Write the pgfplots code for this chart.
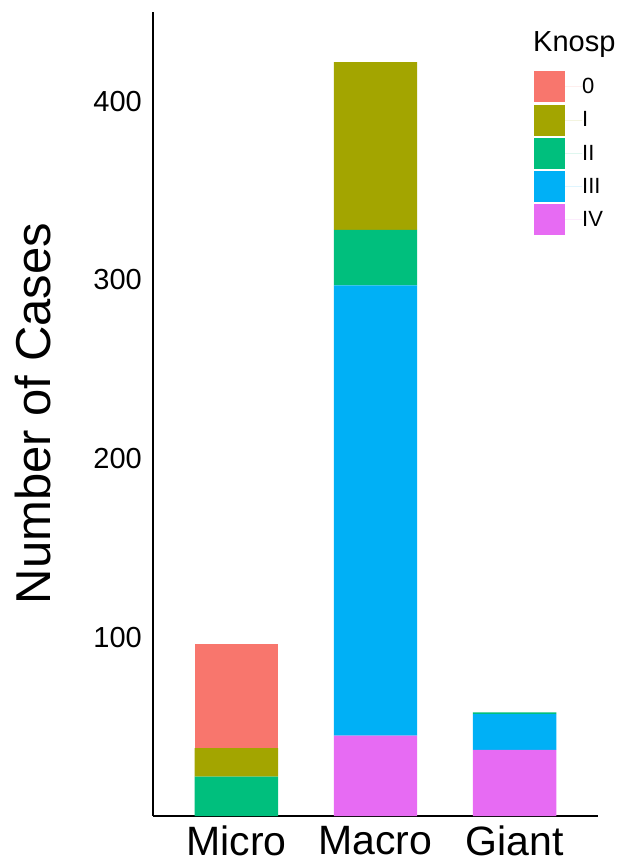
\documentclass[border=0pt]{standalone}
\usepackage{fontspec}
\setmainfont{Liberation Sans}
\usepackage{pgfplots}
\usepackage{pgfplotstable}
\pgfplotsset{compat=1.18}

\definecolor{kzero}{HTML}{F8766D}
\definecolor{kone}{HTML}{A3A500}
\definecolor{ktwo}{HTML}{00BF7D}
\definecolor{kthree}{HTML}{00B0F6}
\definecolor{kfour}{HTML}{E76BF3}

% size class: 1 Micro, 2 Macro, 3 Giant
\pgfplotstableread{
cat knIV knIII knII knI kn0
1   0    0     22   16  58
2   45   252   31   94  0
3   37   20    1    0   0
}\knosp

\begin{document}
\begin{tikzpicture}
\begin{axis}[
    at={(153pt,45pt)}, anchor=south west,
    scale only axis, width=445pt, height=804pt,
    ybar stacked, bar width=0.6,
    xmin=0.4, xmax=3.6, ymin=0, ymax=450,
    axis x line*=bottom, axis y line*=left,
    axis line style={line width=1.2pt, -},
    xtick={1,2,3}, xticklabels={Micro,Macro,Giant},
    ytick={100,200,300,400},
    major tick length=0pt,
    /pgf/number format/assume math mode=true,
    yticklabel style={font=\fontsize{29}{29}\selectfont, inner sep=0pt, xshift=-11pt},
    xticklabel style={font=\fontsize{41}{41}\selectfont, inner sep=0pt, yshift=-10pt},
    ylabel={Number of Cases},
    ylabel style={font=\fontsize{49}{49}\selectfont, at={(axis description cs:-0.2697,0.5006)}, anchor=center},
    reverse legend,
    legend style={at={(axis description cs:0.8562,0.9266)}, anchor=north west,
        draw=none, fill=none, inner sep=0pt, row sep=2.3pt,
        font=\fontsize{22}{22}\selectfont, nodes={inner sep=0pt}},
    legend cell align=left,
    legend image code/.code={
        \fill[#1] (0pt,-15.5pt) rectangle (31pt,15.5pt);
        \path (0pt,0pt) -- (48pt,0pt);
    },
    every axis plot/.append style={draw=none},
]
\addplot[fill=kfour]  table[x=cat, y=knIV]  {\knosp};
\addplot[fill=kthree] table[x=cat, y=knIII] {\knosp};
\addplot[fill=ktwo]   table[x=cat, y=knII]  {\knosp};
\addplot[fill=kone]   table[x=cat, y=knI]   {\knosp};
\addplot[fill=kzero]  table[x=cat, y=kn0]   {\knosp};
\legend{IV,III,II,I,0}
\coordinate (ttl) at (axis description cs:0.854,0.9506);
\end{axis}
\node[anchor=base west, inner sep=0pt, font=\fontsize{29}{29}\selectfont] at (ttl) {Knosp};
\pgfresetboundingbox
\useasboundingbox (0,0) rectangle (626pt,861pt);
\end{tikzpicture}
\end{document}
